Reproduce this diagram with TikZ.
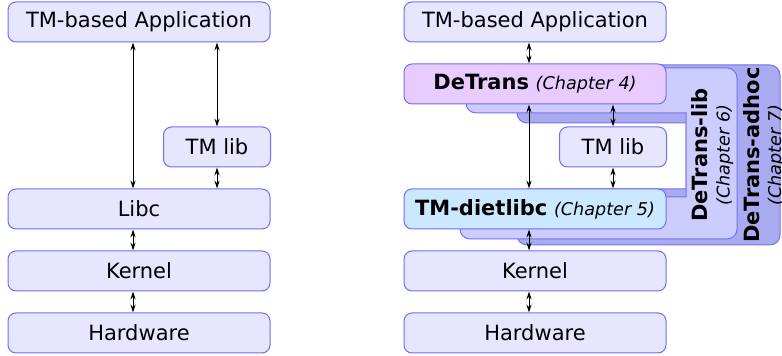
\documentclass[tikz,border=0pt]{standalone}
\usepackage{xcolor}
\usepackage{fontspec}
\setmainfont{DejaVu Sans}
\usetikzlibrary{arrows.meta}

\definecolor{boxfill}{RGB}{230,230,255}
\definecolor{boxline}{RGB}{110,110,250}
\definecolor{transfill}{RGB}{232,204,255}
\definecolor{dietfill}{RGB}{204,232,255}
\definecolor{libfill}{RGB}{204,204,255}
\definecolor{adhocfill}{RGB}{170,170,240}
\definecolor{regionline}{RGB}{115,115,235}

\newcommand{\chap}[1]{{\itshape\fontsize{8.8}{11}\selectfont (Chapter #1)}}

\begin{document}
\begin{tikzpicture}[x=0.5pt,y=-0.5pt,
  font=\fontsize{10.5}{11}\selectfont,
  layer/.style={draw=boxline, fill=boxfill, line width=0.5pt, rounded corners=4pt,
    minimum width=131pt, minimum height=20pt, inner sep=0pt},
  small layer/.style={layer, minimum width=53.5pt},
  region/.style={draw=regionline, line width=0.5pt},
  link/.style={<->, >={Stealth[length=4pt,width=2.6pt]}, line width=0.5pt}]
\useasboundingbox (0,0) rectangle (782,356);

% Regions behind the right stack
\filldraw[region, fill=adhocfill] (686,123) [rounded corners=5pt] -- (517,123) -- (517,65)
  -- (780,65) -- (780,245) -- (517,245) -- (517,189) [sharp corners] -- (686,189) -- cycle;
\filldraw[region, fill=libfill] (686,113) [rounded corners=5pt] -- (466,113) -- (466,68)
  -- (737,68) -- (737,239) -- (460,239) -- (460,197) [sharp corners] -- (686,197) -- cycle;
\node[rotate=90, align=center] (adhoc) at (764,155) {\bfseries DeTrans-adhoc\\ \chap{7}};
\node[rotate=90, align=center] (lib) at (712.5,155) {\bfseries DeTrans-lib\\ \chap{6}};

% Plain stack
\node[layer] (appL) at (139,22) {TM-based Application};
\node[small layer] (tmlibL) at (217,147) {TM lib};
\node[layer] (libcL) at (139,209) {Libc};
\node[layer] (kernelL) at (139,271) {Kernel};
\node[layer] (hwL) at (139,333) {Hardware};

% DeTrans stack
\node[layer] (appR) at (535,22) {TM-based Application};
\node[layer, fill=transfill] (detrans) at (535,84) {\textbf{DeTrans} \chap{4}};
\node[small layer] (tmlibR) at (613,147) {TM lib};
\node[layer, fill=dietfill] (diet) at (535,209) {\textbf{TM-dietlibc} \chap{5}};
\node[layer] (kernelR) at (535,271) {Kernel};
\node[layer] (hwR) at (535,333) {Hardware};

% Calls
\draw[link] ([xshift=-3pt]appL.south) -- ([xshift=-3pt]libcL.north);
\draw[link] (tmlibL.north |- appL.south) -- (tmlibL.north);
\draw[link] (tmlibL.south) -- (tmlibL.south |- libcL.north);
\draw[link] ([xshift=-3pt]libcL.south) -- ([xshift=-3pt]kernelL.north);
\draw[link] ([xshift=-3pt]kernelL.south) -- ([xshift=-3pt]hwL.north);

\draw[link] ([xshift=-3pt]appR.south) -- ([xshift=-3pt]detrans.north);
\draw[link] ([xshift=-3pt]detrans.south) -- ([xshift=-3pt]diet.north);
\draw[link] (tmlibR.north |- detrans.south) -- (tmlibR.north);
\draw[link] (tmlibR.south) -- (tmlibR.south |- diet.north);
\draw[link] ([xshift=-3pt]diet.south) -- ([xshift=-3pt]kernelR.north);
\draw[link] ([xshift=-3pt]kernelR.south) -- ([xshift=-3pt]hwR.north);
\end{tikzpicture}
\end{document}
